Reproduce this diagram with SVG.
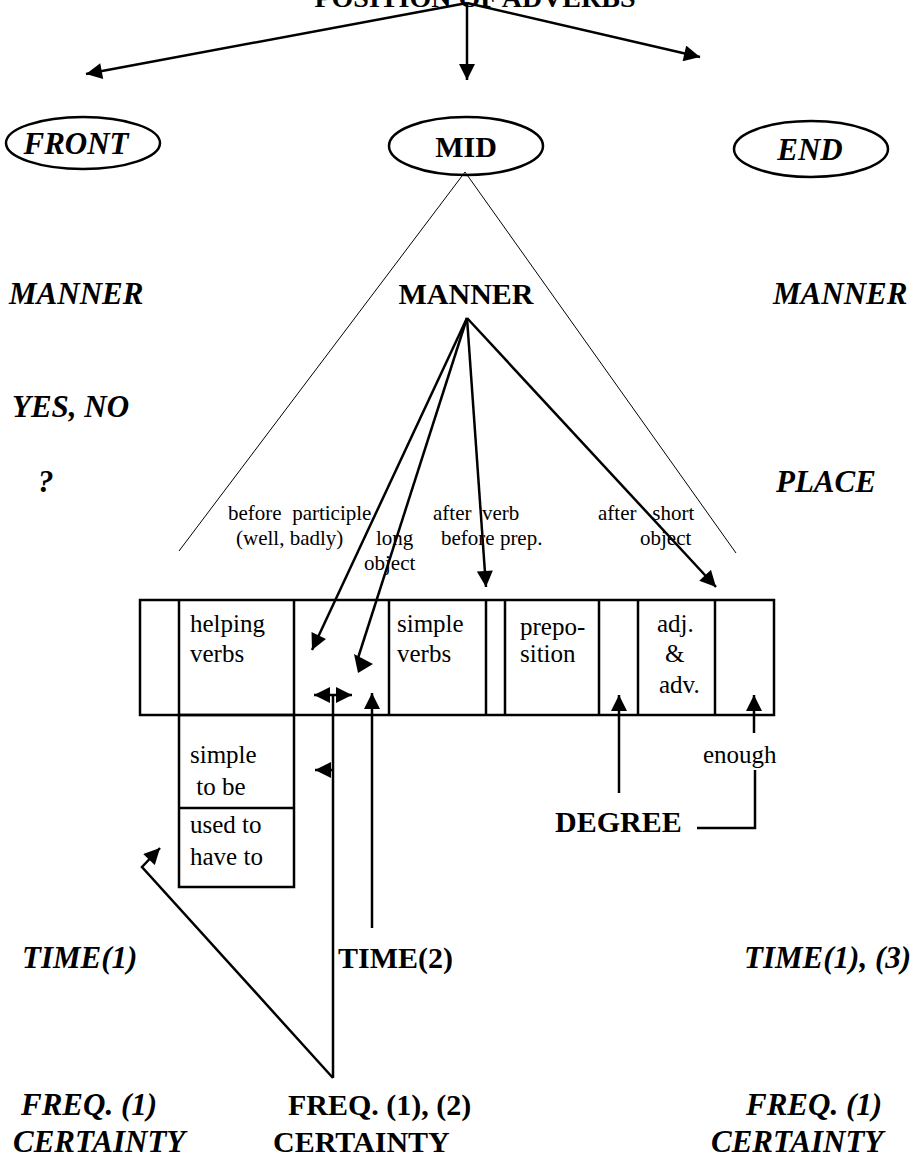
<svg xmlns="http://www.w3.org/2000/svg" width="921" height="1159" viewBox="0 0 921 1159">
  <style>
    text { font-family: "Liberation Serif", "Times New Roman", serif; fill: #000; white-space: pre; }
    .title { font-size: 28px; font-weight: bold; }
    .bi { font-size: 31px; font-weight: bold; font-style: italic; }
    .b { font-size: 30px; font-weight: bold; }
    .cell { font-size: 25px; }
    .lab { font-size: 21px; }
    .ln { stroke: #000; stroke-width: 2.5; fill: none; }
    .thin { stroke: #000; stroke-width: 1; fill: none; }
    .box { stroke: #000; stroke-width: 2.5; fill: none; }
    .div { stroke: #000; stroke-width: 2.5; }
  </style>
  <defs>
    <marker id="ah" viewBox="0 0 10 10" refX="10" refY="5" markerWidth="17" markerHeight="16" markerUnits="userSpaceOnUse" orient="auto-start-reverse">
      <path d="M0,0 L10,5 L0,10 Z" fill="#000"/>
    </marker>
  </defs>

  <rect width="921" height="1159" fill="#fff"/>

  <!-- heading, mostly above the page edge -->
  <text class="title" x="475" y="7" text-anchor="middle">POSITION OF ADVERBS</text>

  <!-- position nodes -->
  <g id="front">
    <ellipse cx="83" cy="143" rx="77" ry="26" class="box" stroke-width="2"/>
    <text class="bi" x="76" y="154" text-anchor="middle">FRONT</text>
  </g>
  <g id="mid">
    <ellipse cx="466" cy="146" rx="77" ry="29" class="box" stroke-width="2"/>
    <text class="b" x="466" y="157" text-anchor="middle">MID</text>
  </g>
  <g id="end">
    <ellipse cx="811" cy="149" rx="77" ry="28" class="box" stroke-width="2"/>
    <text class="bi" x="810" y="160" text-anchor="middle">END</text>
  </g>

  <!-- adverb kinds per column -->
  <g id="front-list">
    <text class="bi" x="9" y="304">MANNER</text>
    <text class="bi" x="12" y="417">YES, NO</text>
    <text class="bi" x="38" y="492">?</text>
    <text class="bi" x="22" y="968">TIME(1)</text>
    <text class="bi" x="21" y="1115">FREQ. (1)</text>
    <text class="bi" x="13" y="1152">CERTAINTY</text>
  </g>
  <g id="mid-list">
    <text class="b" x="466" y="304" text-anchor="middle">MANNER</text>
    <text class="b" x="338" y="968">TIME(2)</text>
    <text class="b" x="288" y="1115">FREQ. (1), (2)</text>
    <text class="b" x="273" y="1152">CERTAINTY</text>
    <text class="b" x="555" y="832">DEGREE</text>
  </g>
  <g id="end-list">
    <text class="bi" x="773" y="304">MANNER</text>
    <text class="bi" x="776" y="492">PLACE</text>
    <text class="bi" x="744" y="968">TIME(1), (3)</text>
    <text class="bi" x="746" y="1115">FREQ. (1)</text>
    <text class="bi" x="711" y="1152">CERTAINTY</text>
  </g>

  <!-- manner placement notes -->
  <g id="notes">
    <text class="lab" x="228" y="520">before  participle</text>
    <text class="lab" x="236" y="545">(well, badly)</text>
    <text class="lab" x="376" y="545">long</text>
    <text class="lab" x="364" y="570">object</text>
    <text class="lab" x="433" y="520">after  verb</text>
    <text class="lab" x="441" y="545">before prep.</text>
    <text class="lab" x="598" y="520">after   short</text>
    <text class="lab" x="640" y="545">object</text>
  </g>

  <!-- sentence slots -->
  <g id="slots">
    <rect x="140" y="600" width="634" height="115" class="box"/>
    <line x1="179" y1="600" x2="179" y2="715" class="div"/>
    <line x1="294" y1="600" x2="294" y2="715" class="div"/>
    <line x1="389" y1="600" x2="389" y2="715" class="div"/>
    <line x1="486" y1="600" x2="486" y2="715" class="div"/>
    <line x1="505" y1="600" x2="505" y2="715" class="div"/>
    <line x1="599" y1="600" x2="599" y2="715" class="div"/>
    <line x1="638" y1="600" x2="638" y2="715" class="div"/>
    <line x1="715" y1="600" x2="715" y2="715" class="div" stroke-width="1.5"/>
    <text class="cell" x="190" y="632">helping</text>
    <text class="cell" x="190" y="662">verbs</text>
    <text class="cell" x="397" y="632">simple</text>
    <text class="cell" x="397" y="662">verbs</text>
    <text class="cell" x="520" y="635">prepo-</text>
    <text class="cell" x="520" y="662">sition</text>
    <text class="cell" x="657" y="632">adj.</text>
    <text class="cell" x="665" y="662">&amp;</text>
    <text class="cell" x="659" y="693">adv.</text>
  </g>
  <g id="sub-slots">
    <rect x="179" y="715" width="115" height="172" class="box"/>
    <line x1="179" y1="808" x2="294" y2="808" class="div"/>
    <text class="cell" x="190" y="763">simple</text>
    <text class="cell" x="190" y="795"> to be</text>
    <text class="cell" x="190" y="833">used to</text>
    <text class="cell" x="190" y="865">have to</text>
  </g>
  <text class="cell" x="703" y="763">enough</text>

  <!-- connectors -->
  <g id="connectors">
    <line x1="467" y1="3" x2="86" y2="74" class="ln" marker-end="url(#ah)"/>
    <line x1="467" y1="3" x2="467" y2="80" class="ln" marker-end="url(#ah)"/>
    <line x1="467" y1="3" x2="700" y2="57" class="ln" marker-end="url(#ah)"/>

    <polyline points="179,551 465,172 736,553" class="thin"/>

    <line x1="467" y1="318" x2="312" y2="650" class="ln" marker-end="url(#ah)"/>
    <line x1="467" y1="318" x2="358" y2="658" class="ln"/>
    <path d="M354,654 L373,664 L358,673 Z" fill="#000"/>
    <line x1="467" y1="318" x2="486" y2="587" class="ln" marker-end="url(#ah)"/>
    <line x1="467" y1="318" x2="716" y2="587" class="ln" marker-end="url(#ah)"/>

    <line x1="314" y1="695" x2="352" y2="695" class="ln" marker-start="url(#ah)" marker-end="url(#ah)"/>
    <line x1="333" y1="695" x2="333" y2="1078" class="ln"/>
    <line x1="333" y1="770" x2="315" y2="770" class="ln" marker-end="url(#ah)"/>
    <polyline points="333,1078 142,867 160,848" class="ln" marker-end="url(#ah)"/>
    <line x1="372" y1="928" x2="372" y2="693" class="ln" marker-end="url(#ah)"/>

    <line x1="619" y1="793" x2="619" y2="695" class="ln" marker-end="url(#ah)"/>
    <polyline points="697,828 755,828 755,770" class="ln"/>
    <line x1="754" y1="733" x2="754" y2="695" class="ln" marker-end="url(#ah)"/>
  </g>
</svg>
